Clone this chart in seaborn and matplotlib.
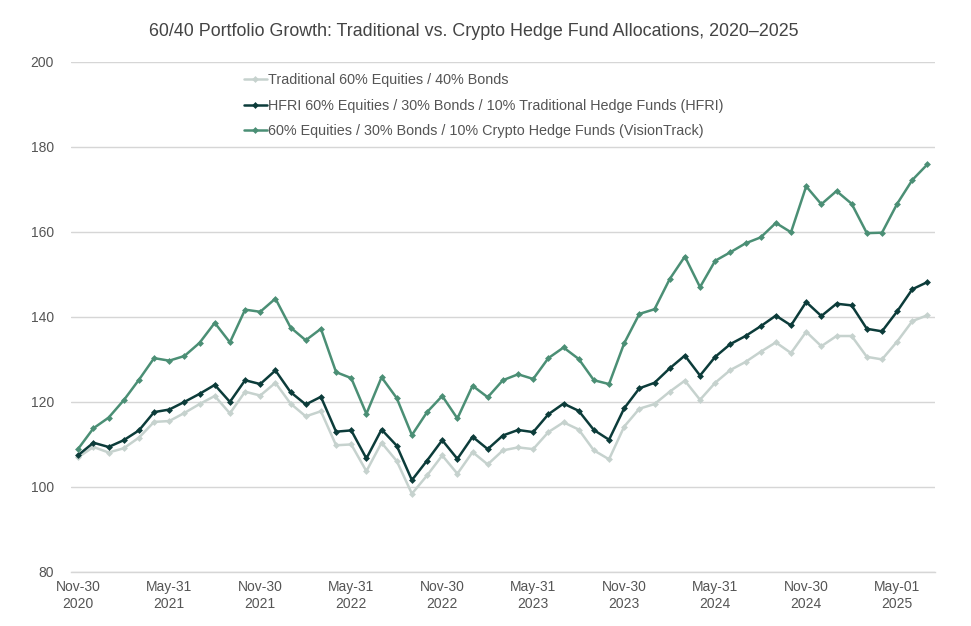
import numpy as np
import pandas as pd
import seaborn as sns
import matplotlib.pyplot as plt

# month-end dates, Nov 2020 .. Jul 2025
dates = pd.date_range("2020-11-30", periods=57, freq="ME")

traditional = [
    107.0, 109.4, 108.1, 109.1, 111.6, 115.3, 115.5, 117.4, 119.5, 121.4, 117.3, 122.4, 121.5, 124.5, 119.6,
    116.6, 117.8, 109.8, 110.0, 103.7, 110.4, 106.1, 98.4, 102.7, 107.4, 103.1, 108.2, 105.3, 108.6,
    109.3, 108.9, 112.9, 115.2, 113.5, 108.6, 106.5, 114.2, 118.4, 119.5, 122.4, 125.0, 120.5, 124.5,
    127.5, 129.4, 131.8, 134.0, 131.5, 136.5, 133.1, 135.5, 135.5, 130.6, 130.0, 134.2, 139.0, 140.4,
]
hfri = [
    107.5, 110.4, 109.4, 111.0, 113.3, 117.6, 118.2, 120.0, 121.9, 124.0, 120.0, 125.1, 124.2, 127.4, 122.3,
    119.4, 121.2, 113.0, 113.3, 106.7, 113.5, 109.7, 101.6, 106.2, 111.0, 106.6, 111.8, 108.9, 112.1,
    113.4, 112.9, 117.1, 119.6, 117.9, 113.4, 111.1, 118.5, 123.2, 124.5, 127.9, 130.9, 126.2, 130.6,
    133.6, 135.5, 137.8, 140.3, 138.0, 143.5, 140.2, 143.1, 142.7, 137.2, 136.6, 141.3, 146.5, 148.2,
]
crypto = [
    109.0, 113.8, 116.3, 120.4, 125.2, 130.3, 129.7, 130.8, 133.9, 138.6, 134.0, 141.7, 141.2, 144.3, 137.5,
    134.5, 137.2, 127.0, 125.6, 117.2, 125.8, 120.9, 112.2, 117.6, 121.4, 116.1, 123.8, 121.1, 125.1,
    126.5, 125.4, 130.3, 132.8, 130.1, 125.1, 124.2, 133.8, 140.7, 141.8, 148.9, 154.2, 147.0, 153.2,
    155.2, 157.3, 158.7, 162.1, 159.9, 170.7, 166.5, 169.6, 166.6, 159.7, 159.8, 166.6, 172.2, 175.9,
]

series_names = [
    "Traditional 60% Equities / 40% Bonds",
    "HFRI 60% Equities / 30% Bonds / 10% Traditional Hedge Funds (HFRI)",
    "60% Equities / 30% Bonds / 10% Crypto Hedge Funds (VisionTrack)",
]
colors = ["#c6d2ce", "#0c3c3a", "#4b8f75"]

tick_idx = [0, 6, 12, 18, 24, 30, 36, 42, 48, 54]
tick_labels = ["Nov-30\n2020", "May-31\n2021", "Nov-30\n2021", "May-31\n2022", "Nov-30\n2022",
               "May-31\n2023", "Nov-30\n2023", "May-31\n2024", "Nov-30\n2024", "May-01\n2025"]

idx = np.arange(len(dates))
df = pd.concat([
    pd.DataFrame({"i": idx, "value": vals, "series": name})
    for name, vals in zip(series_names, [traditional, hfri, crypto])
])

sns.set_style("white")
plt.rcParams["font.family"] = ["Liberation Sans", "DejaVu Sans"]
text_col = "#555555"
grid_col = "#d6d6d6"

fig = plt.figure(figsize=(9.71, 6.26), dpi=100)
ax = fig.add_axes([0.0728, 0.0863, 0.8902, 0.815])

sns.lineplot(data=df, x="i", y="value", hue="series", palette=colors,
             marker="D", markersize=3.5, markeredgewidth=0, linewidth=1.8, ax=ax)

ax.set_xlim(-0.5, len(dates) - 0.5)
ax.set_ylim(80, 200)
ax.set_yticks(range(80, 201, 20))
ax.yaxis.grid(True, color=grid_col, linewidth=1)
ax.set_axisbelow(True)
for s in ax.spines.values():
    s.set_visible(False)
ax.spines["bottom"].set_visible(True)
ax.spines["bottom"].set_color(grid_col)
ax.spines["bottom"].set_linewidth(1)

ax.set_xticks(tick_idx)
ax.set_xticklabels(tick_labels)
ax.set_xticks(np.arange(-0.5, len(dates), 3), minor=True)
ax.tick_params(axis="x", which="major", length=0, pad=6, labelsize=10, colors=text_col)
ax.tick_params(axis="x", which="minor", direction="in", length=4, width=1, color=grid_col)
ax.tick_params(axis="y", length=0, pad=12, labelsize=10, colors=text_col)
ax.set_xlabel("")
ax.set_ylabel("")

fig.text(0.488, 0.949,
         "60/40 Portfolio Growth: Traditional vs. Crypto Hedge Fund Allocations, 2020\u20132025",
         fontsize=12.9, color="#444444", ha="center", va="center")

leg = ax.legend(loc="upper left", bbox_to_anchor=(0.185, 1.003), frameon=False, fontsize=10.4,
                handlelength=1.6, handletextpad=0.1, labelspacing=0.8, labelcolor=text_col)

fig.savefig("out.png", dpi=100)
